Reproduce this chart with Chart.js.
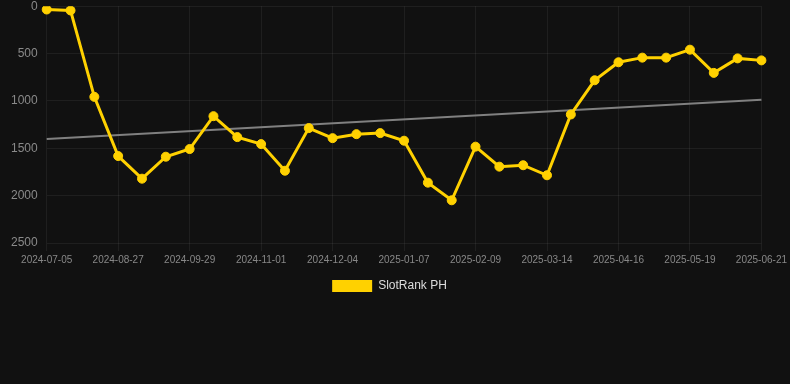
<!DOCTYPE html>
<html>
<head>
<meta charset="utf-8">
<script src="https://cdn.jsdelivr.net/npm/chart.js@4"></script>
<style>
html,body{margin:0;padding:0;background:#111111;overflow:hidden;}
#wrap{position:relative;width:790px;height:312px;margin-top:-10px;}
</style>
</head>
<body>
<div id="wrap"><canvas id="c"></canvas></div>
<script>
const dates = [
  "2024-07-05","2024-07-23","2024-08-09","2024-08-27","2024-09-07","2024-09-18",
  "2024-09-29","2024-10-10","2024-10-21","2024-11-01","2024-11-12","2024-11-23",
  "2024-12-04","2024-12-15","2024-12-26","2025-01-07","2025-01-18","2025-01-29",
  "2025-02-09","2025-02-20","2025-03-03","2025-03-14","2025-03-25","2025-04-05",
  "2025-04-16","2025-04-27","2025-05-08","2025-05-19","2025-05-30","2025-06-10",
  "2025-06-21"
];
const ranks = [
  35, 45, 957, 1582, 1821, 1589, 1508, 1161, 1382, 1456, 1737, 1287,
  1393, 1351, 1340, 1420, 1863, 2049, 1483, 1694, 1679, 1785, 1143, 782,
  592, 543, 543, 459, 704, 551, 572
];
const trendStart = 1403;
const trendEnd = 988;
const yTicks = [0, 500, 1000, 1500, 2000, 2500];

const trend = dates.map((d, i) => i === 0 ? trendStart : (i === dates.length - 1 ? trendEnd : null));

const font = "'Liberation Sans', Arial, Helvetica, sans-serif";
const gridCol = 'rgba(255,255,255,0.06)';
const legendShift = {
  id: 'legendShift',
  afterLayout(chart) { if (chart.legend) { chart.legend.right -= 13; } }
};
new Chart(document.getElementById('c'), {
  type: 'line',
  data: {
    labels: dates,
    datasets: [
      {
        label: 'SlotRank PH',
        data: ranks,
        borderColor: '#FFD100',
        backgroundColor: '#FFD100',
        borderWidth: 3,
        pointRadius: 4.5,
        pointHoverRadius: 4.5,
        pointBorderWidth: 1,
        pointBackgroundColor: '#FFD100',
        pointBorderColor: '#FFD100',
        tension: 0,
        order: 1
      },
      {
        label: 'trend',
        data: trend,
        spanGaps: true,
        borderColor: '#808080',
        borderWidth: 2,
        pointRadius: 0,
        fill: false,
        order: 2
      }
    ]
  },
  plugins: [legendShift],
  options: {
    responsive: true,
    maintainAspectRatio: false,
    animation: false,
    layout: { padding: { left: 2 } },
    plugins: {
      legend: {
        position: 'bottom',
        labels: {
          color: '#dddddd',
          font: { family: font, size: 12 },
          boxWidth: 40,
          boxHeight: 12,
          padding: 11,
          generateLabels: chart => Chart.defaults.plugins.legend.labels.generateLabels(chart)
            .filter(l => l.text !== 'trend')
            .map(l => Object.assign({}, l, { lineWidth: 0 }))
        }
      },
      tooltip: { enabled: false }
    },
    scales: {
      x: {
        grid: {
          color: ctx => (ctx.index % 3 === 0 ? gridCol : 'rgba(0,0,0,0)'),
          drawTicks: true,
          tickLength: 8
        },
        border: { display: false },
        ticks: {
          color: '#888888',
          font: { family: font, size: 10 },
          autoSkip: false,
          maxRotation: 0,
          padding: 3,
          callback: function(v, i) { return i % 3 === 0 ? this.getLabelForValue(v) : ''; }
        }
      },
      y: {
        reverse: true,
        min: 0,
        max: 2500,
        afterBuildTicks: s => { s.ticks = yTicks.map(v => ({ value: v })); },
        grid: { color: gridCol, drawTicks: false },
        border: { display: false },
        ticks: {
          color: '#8a8a8a',
          font: { family: font, size: 12 },
          padding: 9,
          callback: v => String(v)
        }
      }
    }
  }
});
</script>
</body>
</html>
